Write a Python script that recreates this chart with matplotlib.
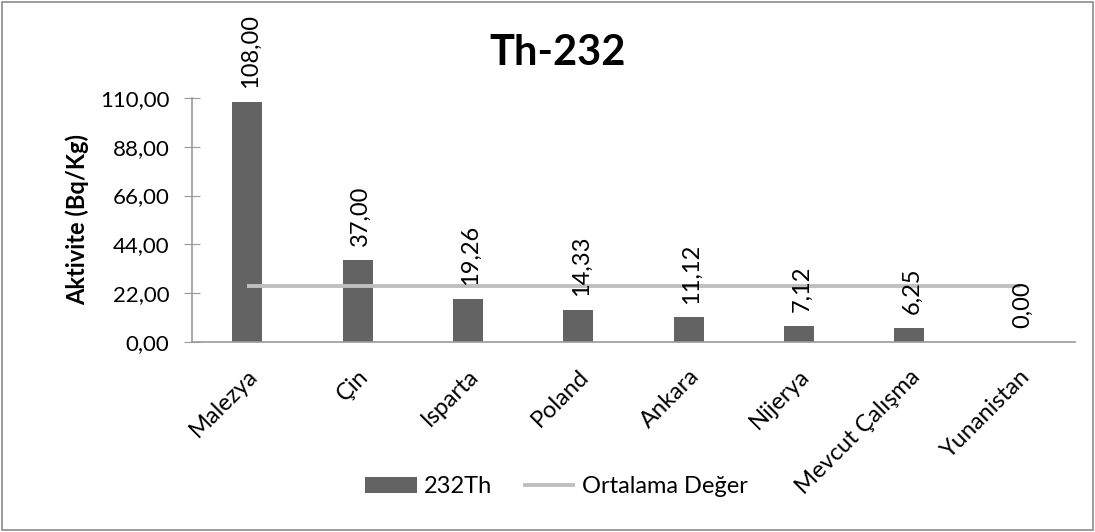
import matplotlib
matplotlib.use("Agg")
import matplotlib.pyplot as plt
from matplotlib.patches import Rectangle

# data
ulkeler = ["Malezya", "Çin", "Isparta", "Poland", "Ankara", "Nijerya",
           "Mevcut Çalışma", "Yunanistan"]
th232 = [108.00, 37.00, 19.26, 14.33, 11.12, 7.12, 6.25, 0.00]
ortalama = [25.39] * len(ulkeler)
yticks = [0, 22, 44, 66, 88, 110]

plt.rcParams['font.family'] = ['Lato', 'DejaVu Sans']
FS = 17

def virgul(v):
    return f"{v:.2f}".replace(".", ",")

fig = plt.figure(figsize=(10.95, 5.32), dpi=100)
ax = fig.add_axes([0.1755, 0.357, 0.806, 0.459])

x = list(range(len(ulkeler)))
ax.bar(x, th232, width=0.27, color="#636363", label="232Th", zorder=2)
ax.plot(x, ortalama, color="#BFBFBF", lw=2.8, label="Ortalama Değer",
        solid_capstyle="butt", zorder=3)

# rotated value labels over bars
for xi, v in zip(x, th232):
    ax.annotate(virgul(v), (xi, v), xytext=(2, 10), textcoords="offset points",
                rotation=90, ha="center", va="bottom", fontsize=FS)

ax.set_xlim(-0.5, len(ulkeler) - 0.5)
ax.set_ylim(0, 110)
ax.set_yticks(yticks)
ax.set_yticklabels([virgul(t) for t in yticks], fontsize=16)
ax.set_xticks(x)
ax.set_xticklabels(ulkeler, rotation=45, ha="right", rotation_mode="anchor",
                   fontsize=FS)
ax.tick_params(axis="x", length=0, pad=17)
ax.tick_params(axis="y", direction="inout", length=11, color="#999999", pad=11)

for s in ["top", "right"]:
    ax.spines[s].set_visible(False)
for s in ["left", "bottom"]:
    ax.spines[s].set_color("#999999")
    ax.spines[s].set_linewidth(1.2)

ax.set_ylabel("Aktivite (Bq/Kg)", fontsize=17, fontweight="bold", labelpad=8)
fig.text(0.509, 0.9, "Th-232", ha="center", va="center", fontsize=30,
         fontweight="bold")

h, l = ax.get_legend_handles_labels()
fig.legend(h[::-1], l[::-1], loc="center", bbox_to_anchor=(0.508, 0.085),
           ncol=2, frameon=False, fontsize=FS, handlelength=2.2,
           handletextpad=0.3, columnspacing=1.3)

fig.patches.append(Rectangle((0.002, 0.003), 0.996, 0.994,
                             transform=fig.transFigure, fill=False,
                             edgecolor="#8c8c8c", lw=1.2))

fig.savefig("out.png", dpi=100)
